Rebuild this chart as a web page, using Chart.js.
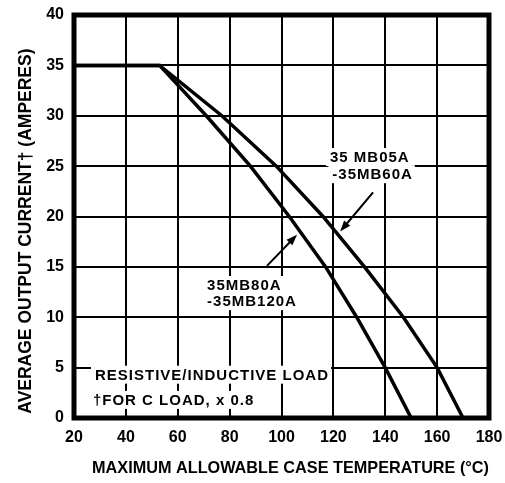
<!DOCTYPE html>
<html>
<head>
<meta charset="utf-8">
<script src="https://cdn.jsdelivr.net/npm/chart.js@4/dist/chart.umd.min.js"></script>
<style>
  body { margin: 0; background: #fff; }
  #wrap { width: 505px; height: 483px; }
</style>
</head>
<body>
<div id="wrap"><canvas id="derating" width="505" height="483"></canvas></div>
<script>
// current (A) levels shared by both curves
const currentLevels = [35, 35, 30, 25, 20, 15, 10, 5, 0];
// case temperature (C) where each curve meets those levels
const tempLowV = [20, 53, 77, 98, 116, 132, 147, 160, 170];   // 35MB05A - 35MB60A
const tempHighV = [20, 53, 71, 88, 103, 117, 129, 140, 150];  // 35MB80A - 35MB120A

const xTicks = [20, 40, 60, 80, 100, 120, 140, 160, 180];
const yTicks = [0, 5, 10, 15, 20, 25, 30, 35, 40];

// notes drawn on the plot, placed in data units
const notes = [
  { text: '35 MB05A', x: 118.7, y: 25.9 },
  { text: '-35MB60A', x: 119.6, y: 24.2 },
  { text: '35MB80A', x: 71.3, y: 13.2 },
  { text: '-35MB120A', x: 71.3, y: 11.6 },
  { text: 'RESISTIVE/INDUCTIVE LOAD', x: 28.1, y: 4.3 },
  { text: '\u2020FOR C LOAD, x 0.8', x: 27.3, y: 1.8 }
];
const arrows = [
  { from: [135.3, 22.4], to: [122.6, 18.5] },
  { from: [94.4, 15.1], to: [106, 18.2] }
];

const toPoints = (xs, ys) => xs.map((t, i) => ({ x: t, y: ys[i] }));

const notesPlugin = {
  id: 'notes',
  afterDatasetsDraw(chart) {
    const { ctx, scales: { x, y } } = chart;
    ctx.save();
    ctx.font = 'bold 15px "Liberation Sans", Arial, sans-serif';
    ctx.letterSpacing = '1px';
    ctx.textBaseline = 'middle';
    notes.forEach(n => {
      const px = x.getPixelForValue(n.x);
      const py = y.getPixelForValue(n.y);
      const w = ctx.measureText(n.text).width;
      ctx.fillStyle = '#fff';
      ctx.fillRect(px - 4, py - 9, w + 6, 18);
      ctx.fillStyle = '#000';
      ctx.fillText(n.text, px, py + 1);
    });
    ctx.strokeStyle = '#000';
    ctx.fillStyle = '#000';
    ctx.lineWidth = 2;
    arrows.forEach(a => {
      const x1 = x.getPixelForValue(a.from[0]), y1 = y.getPixelForValue(a.from[1]);
      const x2 = x.getPixelForValue(a.to[0]), y2 = y.getPixelForValue(a.to[1]);
      const ang = Math.atan2(y2 - y1, x2 - x1);
      ctx.beginPath();
      ctx.moveTo(x1, y1);
      ctx.lineTo(x2 - 6 * Math.cos(ang), y2 - 6 * Math.sin(ang));
      ctx.stroke();
      ctx.beginPath();
      ctx.moveTo(x2, y2);
      ctx.lineTo(x2 - 11 * Math.cos(ang) + 4 * Math.sin(ang), y2 - 11 * Math.sin(ang) - 4 * Math.cos(ang));
      ctx.lineTo(x2 - 11 * Math.cos(ang) - 4 * Math.sin(ang), y2 - 11 * Math.sin(ang) + 4 * Math.cos(ang));
      ctx.closePath();
      ctx.fill();
    });
    ctx.restore();
  },
  afterDraw(chart) {
    const { ctx, chartArea: a } = chart;
    ctx.save();
    ctx.strokeStyle = '#000';
    ctx.lineWidth = 5;
    ctx.strokeRect(a.left, a.top, a.right - a.left, a.bottom - a.top);
    ctx.restore();
  }
};

const tickFont = { family: '"Liberation Sans", Arial, sans-serif', size: 16, weight: 'bold' };

new Chart(document.getElementById('derating'), {
  type: 'line',
  data: {
    datasets: [
      {
        label: '35MB05A-35MB60A',
        data: toPoints(tempLowV, currentLevels),
        borderColor: '#000',
        borderWidth: 3.5,
        pointRadius: 0,
        tension: 0
      },
      {
        label: '35MB80A-35MB120A',
        data: toPoints(tempHighV, currentLevels),
        borderColor: '#000',
        borderWidth: 3.5,
        pointRadius: 0,
        tension: 0
      }
    ]
  },
  options: {
    responsive: false,
    animation: false,
    layout: { padding: { top: 15, right: 16, left: 0, bottom: 0 } },
    plugins: { legend: { display: false }, tooltip: { enabled: false } },
    scales: {
      x: {
        type: 'linear',
        min: 20, max: 180,
        afterBuildTicks: s => { s.ticks = xTicks.map(v => ({ value: v })); },
        afterFit: s => { s.height = 65; s.paddingLeft = 0; s.paddingRight = 0; },
        grid: { color: '#000', lineWidth: 2, drawTicks: false },
        border: { display: false },
        ticks: { color: '#000', font: tickFont, padding: 10, maxRotation: 0 },
        title: {
          display: true,
          // leading spaces nudge the title right, as in the original
          text: '    MAXIMUM ALLOWABLE CASE TEMPERATURE (\u00B0C)',
          color: '#000',
          font: { family: '"Liberation Sans", Arial, sans-serif', size: 17, weight: 'bold' },
          padding: { top: 6 }
        }
      },
      y: {
        type: 'linear',
        min: 0, max: 40,
        afterBuildTicks: s => { s.ticks = yTicks.map(v => ({ value: v })); },
        afterFit: s => { s.width = 74; s.paddingTop = 0; s.paddingBottom = 0; },
        grid: { color: '#000', lineWidth: 2, drawTicks: false },
        border: { display: false },
        ticks: { color: '#000', font: tickFont, padding: 10 },
        title: {
          display: true,
          // trailing spaces push the title down a little
          text: 'AVERAGE OUTPUT CURRENT\u2020 (AMPERES)      ',
          color: '#000',
          font: { family: '"Liberation Sans", Arial, sans-serif', size: 17.5, weight: 'bold' },
          padding: { bottom: 4, top: 16 }
        }
      }
    }
  },
  plugins: [notesPlugin]
});
</script>
</body>
</html>
